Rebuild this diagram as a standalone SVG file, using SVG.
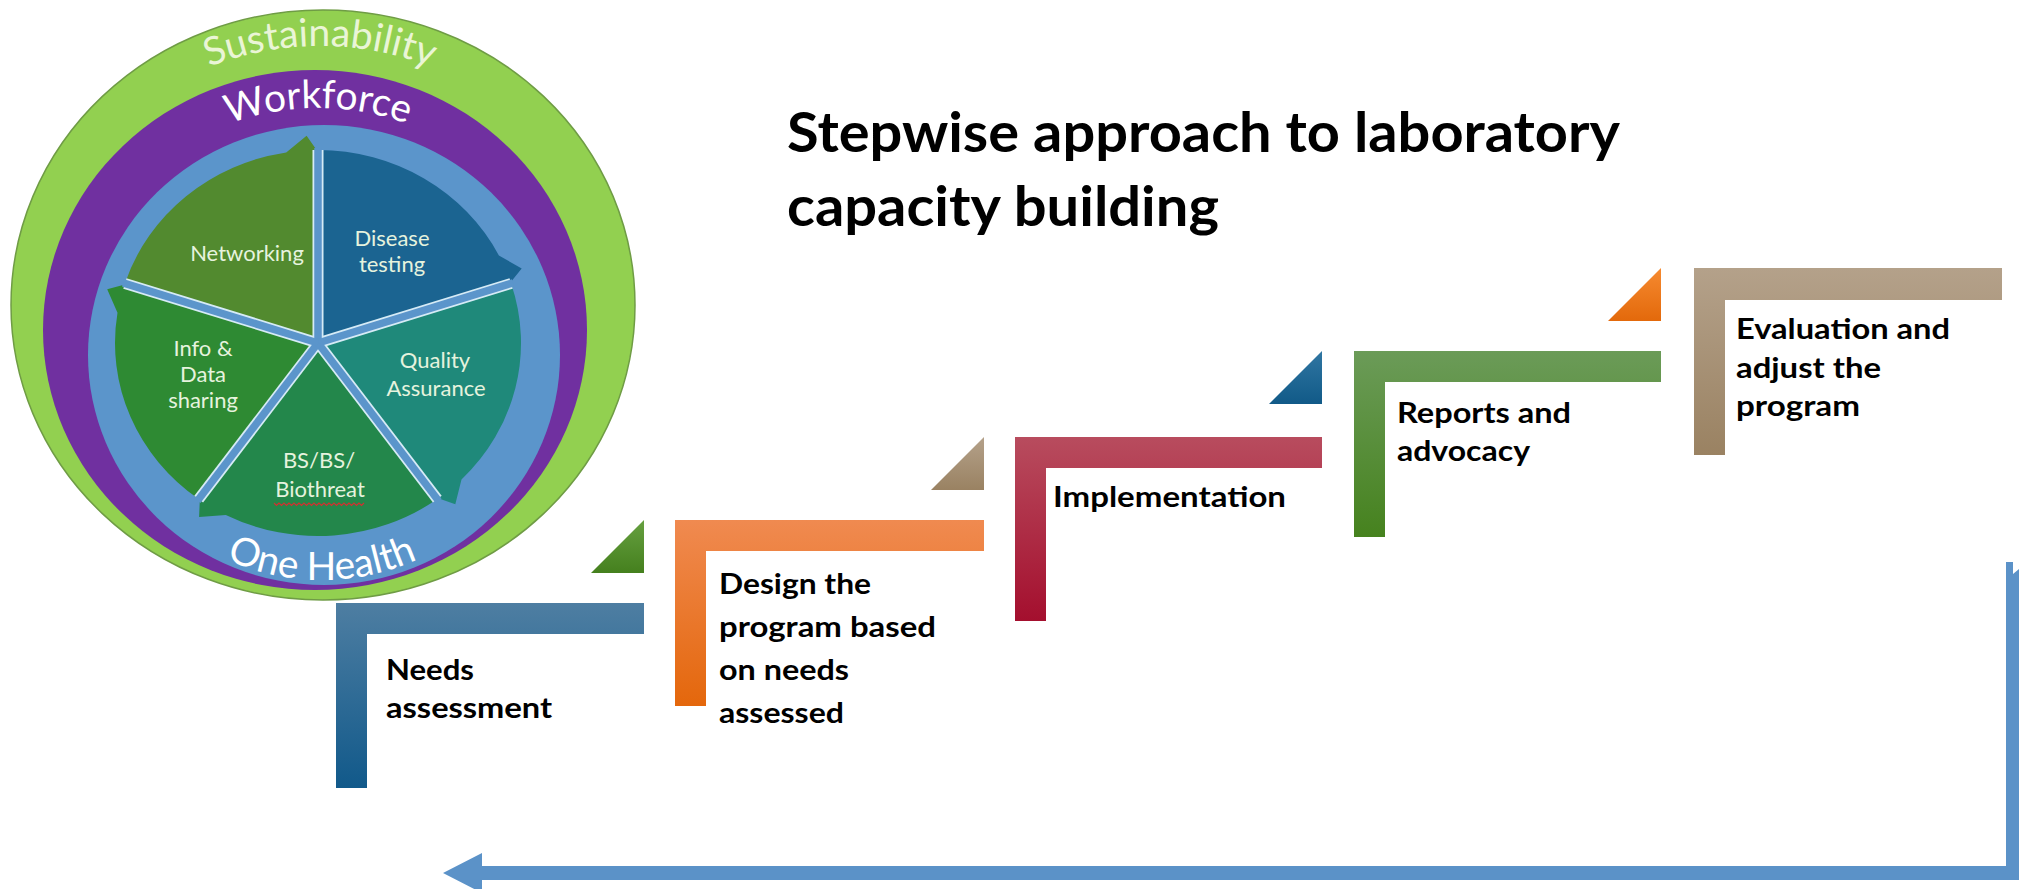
<svg xmlns="http://www.w3.org/2000/svg" width="2032" height="889" viewBox="0 0 2032 889">
  <defs>
    <style>
      .title { font-family: Lato, "Liberation Sans", sans-serif; font-weight: 700; font-size: 56px; fill: #000; }
      .lbl { font-family: Lato, "Liberation Sans", sans-serif; font-weight: 700; font-size: 29px; fill: #000; }
      .slice-txt { font-family: Lato, "Liberation Sans", sans-serif; font-size: 22px; fill: #e6f3de; text-anchor: middle; }
      .ring-txt { font-family: Lato, "Liberation Sans", sans-serif; font-size: 39px; text-anchor: middle; }
      .divider-edge { stroke: #d6ebf6; stroke-width: 11; stroke-linecap: butt; }
      .divider { stroke: #5b95cb; stroke-width: 7.5; stroke-linecap: butt; }
    </style>
    <linearGradient id="gBlue" x1="0" y1="0" x2="0" y2="1">
      <stop offset="0" stop-color="#4e7ea2"/>
      <stop offset="1" stop-color="#11598a"/>
    </linearGradient>
    <linearGradient id="gOrange" x1="0" y1="0" x2="0" y2="1">
      <stop offset="0" stop-color="#f08a50"/>
      <stop offset="1" stop-color="#e4670c"/>
    </linearGradient>
    <linearGradient id="gRed" x1="0" y1="0" x2="0" y2="1">
      <stop offset="0" stop-color="#b84c5e"/>
      <stop offset="1" stop-color="#a40f2e"/>
    </linearGradient>
    <linearGradient id="gGreen" x1="0" y1="0" x2="0" y2="1">
      <stop offset="0" stop-color="#6b9b58"/>
      <stop offset="1" stop-color="#46821e"/>
    </linearGradient>
    <linearGradient id="gTan" x1="0" y1="0" x2="0" y2="1">
      <stop offset="0" stop-color="#b4a18a"/>
      <stop offset="1" stop-color="#9a8262"/>
    </linearGradient>
    <linearGradient id="gTriGreen" x1="0" y1="0" x2="0" y2="1">
      <stop offset="0" stop-color="#66a040"/>
      <stop offset="1" stop-color="#45801e"/>
    </linearGradient>
    <linearGradient id="gTriBlue" x1="0" y1="0" x2="0" y2="1">
      <stop offset="0" stop-color="#3076a2"/>
      <stop offset="1" stop-color="#115a88"/>
    </linearGradient>
    <linearGradient id="gTriOrange" x1="0" y1="0" x2="0" y2="1">
      <stop offset="0" stop-color="#f68a30"/>
      <stop offset="1" stop-color="#e3690b"/>
    </linearGradient>
    <path id="arcSustain" d="M 17,349 A 303 303 0 0 1 623,349"/>
    <path id="arcWorkforce" d="M 61,365 A 257 257 0 0 1 575,365"/>
    <path id="arcOneHealth" d="M 90,348 A 232 232 0 0 0 554,348"/>
  </defs>

  <rect width="2032" height="889" fill="#ffffff"/>

  <!-- Capacity wheel -->
  <g id="capacity-wheel">
    <ellipse cx="323" cy="305" rx="312" ry="295" fill="#92d050" stroke="#6f9c45" stroke-width="1.5"/>
    <ellipse cx="315" cy="330" rx="272" ry="260" fill="#7030a0"/>
    <ellipse cx="324" cy="355" rx="236" ry="230" fill="#5b95cb"/>

    <text class="ring-txt" fill="#eaf5d6"><textPath href="#arcSustain" startOffset="50%">Sustainability</textPath></text>
    <text class="ring-txt" fill="#ffffff"><textPath href="#arcWorkforce" startOffset="50%">Workforce</textPath></text>
    <text class="ring-txt" fill="#ffffff"><textPath href="#arcOneHealth" startOffset="50%">One Health</textPath></text>

    <g id="slice-networking">
      <path d="M318,343 L124.9,283.4 A203,193 0 0 1 286.2,152.4 L306.6,135.8 L318,151.9 Z" fill="#528a2f"/>
      <text class="slice-txt" x="247" y="261">Networking</text>
    </g>
    <g id="slice-disease-testing">
      <path d="M318,343 L318,150 A203,193 0 0 1 498.9,255.4 L521.7,268.6 L509.2,284 Z" fill="#1b6491"/>
      <text class="slice-txt" x="392" y="246">Disease</text>
      <text class="slice-txt" x="392" y="272">testing</text>
    </g>
    <g id="slice-quality-assurance">
      <path d="M318,343 L511.1,283.4 A203,193 0 0 1 461.5,479.5 L455.3,504.2 L436.1,497.5 Z" fill="#1f897a"/>
      <text class="slice-txt" x="435" y="368">Quality</text>
      <text class="slice-txt" x="436" y="396">Assurance</text>
    </g>
    <g id="slice-biothreat">
      <path d="M318,343 L437.3,499.1 A203,193 0 0 1 225.8,515 L199.1,517 L199.9,497.5 Z" fill="#23874b"/>
      <text class="slice-txt" x="319" y="468">BS/BS/</text>
      <text class="slice-txt" x="320" y="497">Biothreat</text>
      <!-- spell-check squiggle under the last word -->
      <path d="M274,503 l2.5,2.5 l2.5,-2.5 l2.5,2.5 l2.5,-2.5 l2.5,2.5 l2.5,-2.5 l2.5,2.5 l2.5,-2.5 l2.5,2.5 l2.5,-2.5 l2.5,2.5 l2.5,-2.5 l2.5,2.5 l2.5,-2.5 l2.5,2.5 l2.5,-2.5 l2.5,2.5 l2.5,-2.5 l2.5,2.5 l2.5,-2.5 l2.5,2.5 l2.5,-2.5 l2.5,2.5 l2.5,-2.5 l2.5,2.5 l2.5,-2.5 l2.5,2.5 l2.5,-2.5 l2.5,2.5 l2.5,-2.5 l2.5,2.5 l2.5,-2.5 l2.5,2.5 l2.5,-2.5 l2.5,2.5 l2.5,-2.5" fill="none" stroke="#d03030" stroke-width="1.2"/>
    </g>
    <g id="slice-info-sharing">
      <path d="M318,343 L198.7,499.1 A203,193 0 0 1 117.5,312.8 L107.2,289.3 L126.8,284 Z" fill="#2e8a33"/>
      <text class="slice-txt" x="203" y="356">Info &amp;</text>
      <text class="slice-txt" x="203" y="382">Data</text>
      <text class="slice-txt" x="203" y="408">sharing</text>
    </g>

    <g id="slice-dividers">
      <line class="divider-edge" x1="318" y1="343" x2="318" y2="150"/>
      <line class="divider-edge" x1="318" y1="343" x2="511.1" y2="283.4"/>
      <line class="divider-edge" x1="318" y1="343" x2="437.3" y2="499.1"/>
      <line class="divider-edge" x1="318" y1="343" x2="198.7" y2="499.1"/>
      <line class="divider-edge" x1="318" y1="343" x2="124.9" y2="283.4"/>
      <line class="divider" x1="318" y1="343" x2="318" y2="148"/>
      <line class="divider" x1="318" y1="343" x2="513" y2="282.8"/>
      <line class="divider" x1="318" y1="343" x2="438.5" y2="500.7"/>
      <line class="divider" x1="318" y1="343" x2="197.5" y2="500.7"/>
      <line class="divider" x1="318" y1="343" x2="123" y2="282.8"/>
    </g>
  </g>

  <!-- Title -->
  <g id="title">
    <text class="title" x="787" y="152" textLength="833" lengthAdjust="spacingAndGlyphs">Stepwise approach to laboratory</text>
    <text class="title" x="787" y="226" textLength="432" lengthAdjust="spacingAndGlyphs">capacity building</text>
  </g>

  <!-- Steps -->
  <g id="step-needs-assessment">
    <path d="M336,603 H644 V634 H367 V788 H336 Z" fill="url(#gBlue)"/>
    <text class="lbl" x="386" y="680" textLength="88" lengthAdjust="spacingAndGlyphs">Needs</text>
    <text class="lbl" x="386" y="718" textLength="166" lengthAdjust="spacingAndGlyphs">assessment</text>
  </g>
  <g id="step-design-program">
    <path d="M675,520 H984 V551 H706 V706 H675 Z" fill="url(#gOrange)"/>
    <text class="lbl" x="719" y="594" textLength="152" lengthAdjust="spacingAndGlyphs">Design the</text>
    <text class="lbl" x="719" y="637" textLength="217" lengthAdjust="spacingAndGlyphs">program based</text>
    <text class="lbl" x="719" y="680" textLength="130" lengthAdjust="spacingAndGlyphs">on needs</text>
    <text class="lbl" x="719" y="723" textLength="125" lengthAdjust="spacingAndGlyphs">assessed</text>
  </g>
  <g id="step-implementation">
    <path d="M1015,437 H1322 V468 H1046 V621 H1015 Z" fill="url(#gRed)"/>
    <text class="lbl" x="1053" y="507" textLength="233" lengthAdjust="spacingAndGlyphs">Implementation</text>
  </g>
  <g id="step-reports-advocacy">
    <path d="M1354,351 H1661 V382 H1385 V537 H1354 Z" fill="url(#gGreen)"/>
    <text class="lbl" x="1397" y="423" textLength="174" lengthAdjust="spacingAndGlyphs">Reports and</text>
    <text class="lbl" x="1397" y="461" textLength="133" lengthAdjust="spacingAndGlyphs">advocacy</text>
  </g>
  <g id="step-evaluation">
    <path d="M1694,268 H2002 V300 H1725 V455 H1694 Z" fill="url(#gTan)"/>
    <text class="lbl" x="1736" y="339" textLength="214" lengthAdjust="spacingAndGlyphs">Evaluation and</text>
    <text class="lbl" x="1736" y="378" textLength="145" lengthAdjust="spacingAndGlyphs">adjust the</text>
    <text class="lbl" x="1736" y="416" textLength="124" lengthAdjust="spacingAndGlyphs">program</text>
  </g>

  <!-- Connectors: step risers and the return arrow -->
  <g id="connectors">
    <polygon points="591,573 644,573 644,520" fill="url(#gTriGreen)"/>
    <polygon points="931,490 984,490 984,437" fill="url(#gTan)"/>
    <polygon points="1269,404 1322,404 1322,351" fill="url(#gTriBlue)"/>
    <polygon points="1608,321 1661,321 1661,268" fill="url(#gTriOrange)"/>
    <path d="M2006,562 L2013,562 L2013,574 L2019,569 L2019,880 L482,880 L482,893 L443,873 L482,853 L482,866 L2006,866 Z" fill="#5b92c8"/>
  </g>
</svg>
